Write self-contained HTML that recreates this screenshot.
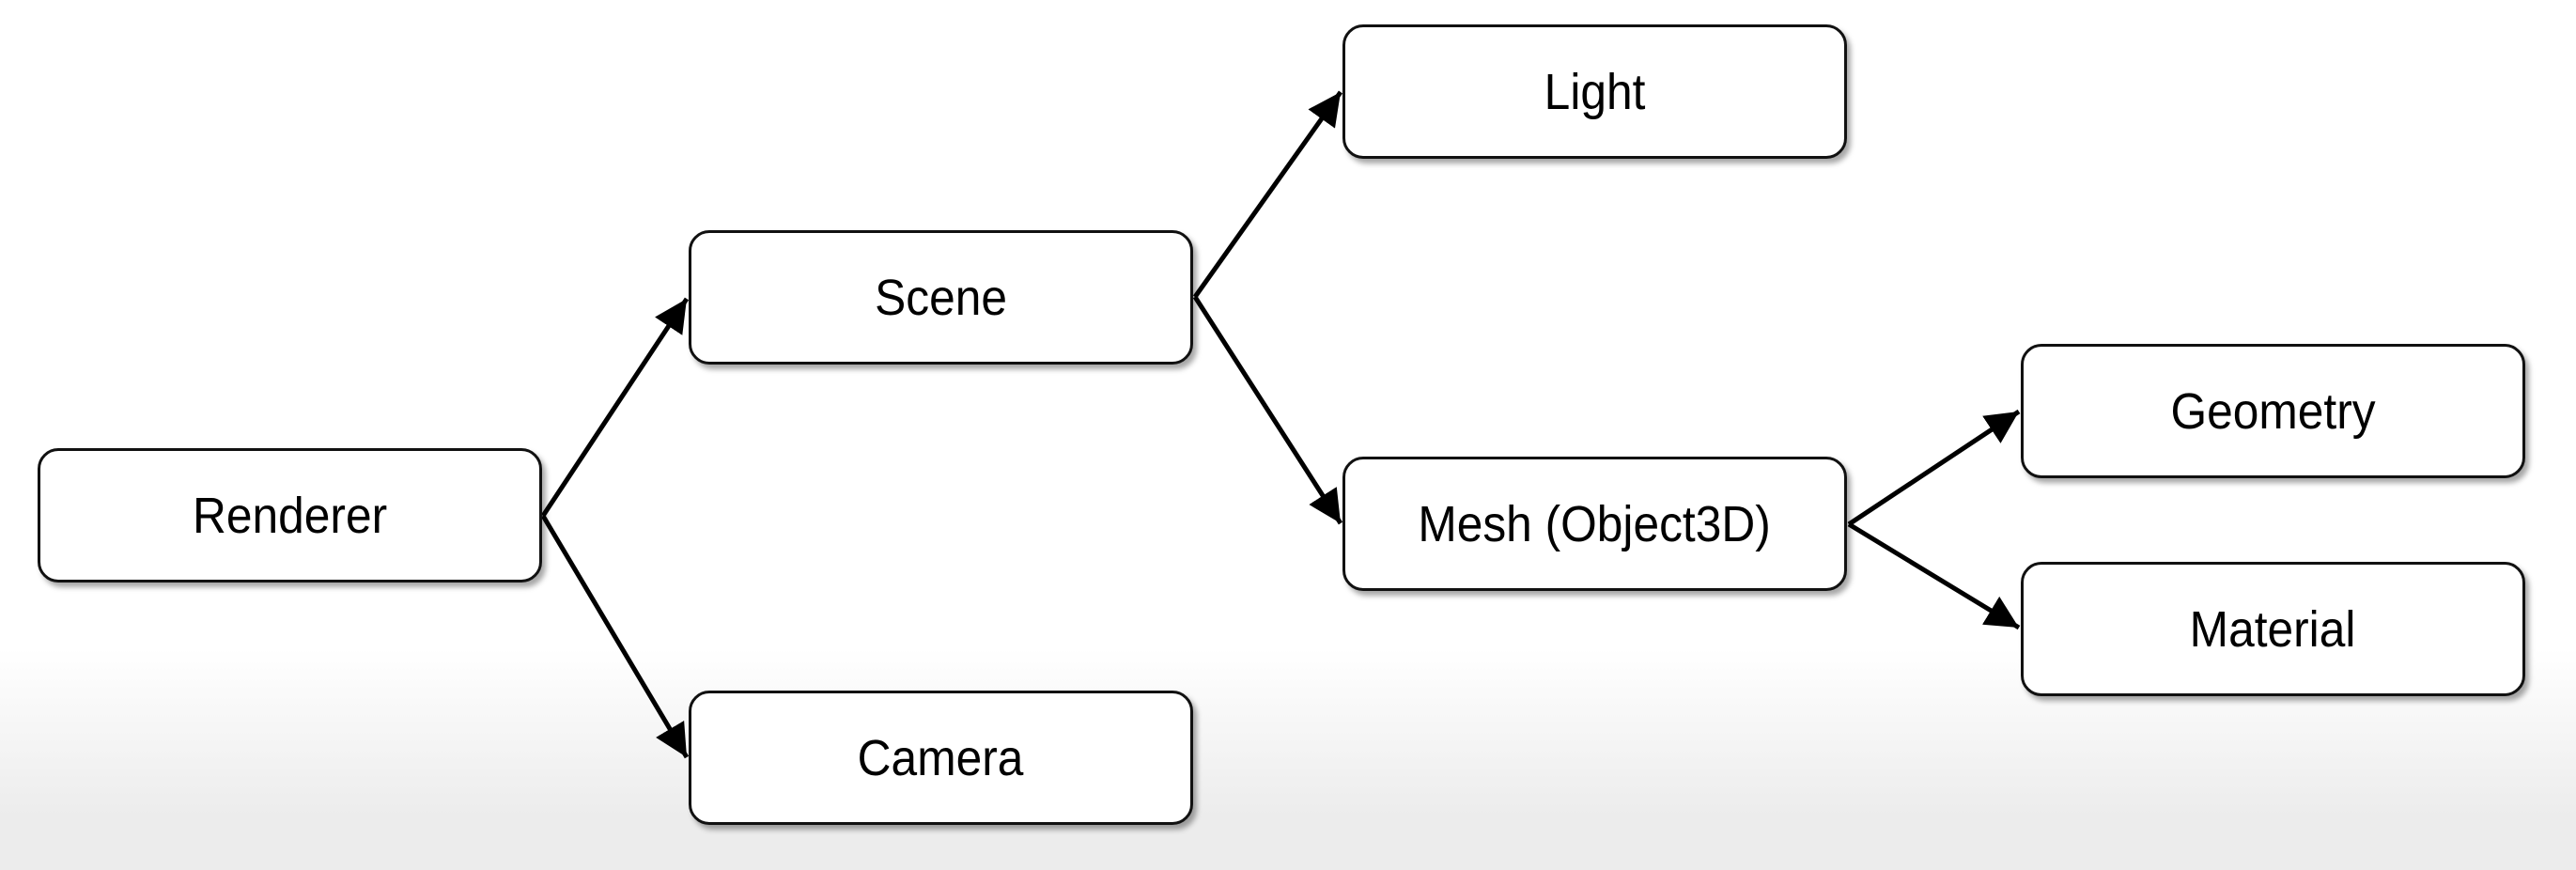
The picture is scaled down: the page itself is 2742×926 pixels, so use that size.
<!DOCTYPE html>
<html><head><style>
body{margin:0;width:2742px;height:926px;overflow:hidden;background:linear-gradient(to bottom,#fff 0,#fff 690px,#ececec 870px,#ececec 926px);font-family:"Liberation Sans",sans-serif;}
.n{position:absolute;width:531px;height:137px;border:3.5px solid #111;border-radius:22px;background:#fff;box-shadow:4px 5px 6px rgba(0,0,0,.35);display:flex;align-items:center;justify-content:center;font-size:54px;color:#000;}
.n span{display:inline-block;transform:scaleX(0.92);}
svg{position:absolute;left:0;top:0}
</style></head><body>
<svg width="2742" height="926">
<defs><marker id="a" markerWidth="8" markerHeight="8" refX="7" refY="4" orient="auto" markerUnits="strokeWidth"><path d="M0,0.5 L7,4 L0,7.5z" fill="#000"/></marker></defs>
<g stroke="#000" stroke-width="5" fill="none" marker-end="url(#a)">
<line x1="578" y1="549" x2="731" y2="318"/>
<line x1="578" y1="549" x2="731" y2="806"/>
<line x1="1272" y1="316" x2="1427" y2="98"/>
<line x1="1272" y1="316" x2="1427" y2="557"/>
<line x1="1968" y1="558" x2="2149" y2="438"/>
<line x1="1968" y1="558" x2="2149" y2="668"/>
</g></svg>
<div class="n" style="left:40px;top:477px"><span>Renderer</span></div>
<div class="n" style="left:733px;top:245px"><span>Scene</span></div>
<div class="n" style="left:733px;top:735px"><span>Camera</span></div>
<div class="n" style="left:1429px;top:26px"><span>Light</span></div>
<div class="n" style="left:1429px;top:486px"><span>Mesh (Object3D)</span></div>
<div class="n" style="left:2151px;top:366px"><span>Geometry</span></div>
<div class="n" style="left:2151px;top:598px"><span>Material</span></div>
</body></html>
